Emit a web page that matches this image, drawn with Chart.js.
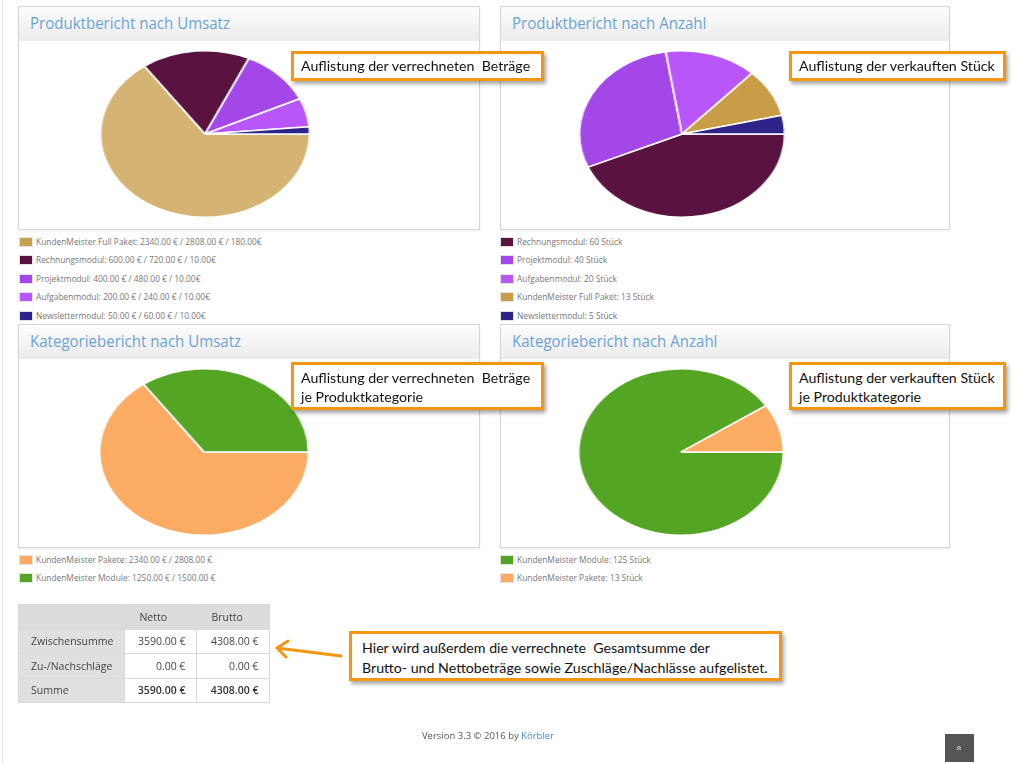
<!DOCTYPE html>
<html lang="de">
<head>
<meta charset="utf-8">
<title>Berichte</title>
<script src="https://cdn.jsdelivr.net/npm/chart.js@4.4.1/dist/chart.umd.min.js"></script>
<style>
  html, body { margin: 0; padding: 0; }
  body { width: 1024px; height: 763px; position: relative; overflow: hidden; background: #fff; font-family: "Open Sans", sans-serif; }
  .leftline { position: absolute; left: 2px; top: 0; width: 1px; height: 763px; background: #e6e6e6; }
  .panel { position: absolute; border: 1px solid #d6d6d6; background: #fff; box-shadow: 0 1px 2px rgba(0,0,0,0.08); }
  .panel .head { position: absolute; left: 0; top: 0; right: 0; height: 34px; background: linear-gradient(#fdfdfd, #ebebeb); }
  .panel .head span { position: absolute; left: 11px; top: 4px; font-size: 17px; color: #6ba4d4; white-space: nowrap; transform: scaleX(0.885); transform-origin: left center; }
  canvas.pie { position: absolute; }
  .legend { position: absolute; }
  .legend .item { position: absolute; left: 0; height: 12px; white-space: nowrap; }
  .legend .sw { position: absolute; left: 0; top: 0; width: 14px; height: 10px; background: #e2e2e2; }
  .legend .sw i { position: absolute; left: 1px; top: 1px; width: 12px; height: 8px; }
  .legend .tx { position: absolute; left: 17px; top: -1px; font-size: 8.4px; line-height: 12px; color: #777; }
  .callout { position: absolute; box-sizing: border-box; background: #fff; border: 3px solid #f5960f; box-shadow: 2px 3px 4px rgba(0,0,0,0.35); font-family: Lato, sans-serif; font-size: 14.2px; line-height: 18.5px; color: #111; padding: 5px 0 0 7px; white-space: nowrap; }
  table.sum { position: absolute; left: 18px; top: 604px; border-collapse: collapse; font-size: 10.5px; color: #444; }
  table.sum td { border: 1px solid #d9d9d9; height: 24.5px; padding: 0 11px; box-sizing: border-box; white-space: nowrap; }
  table.sum td.c0 { width: 106px; background: #e0e0e0; padding-left: 12px; }
  table.sum td.c1 { width: 72px; text-align: right; }
  table.sum td.c2 { width: 73px; text-align: right; }
  table.sum tr.hd td { background: #dcdcdc; text-align: left; padding-left: 14px; }
  table.sum tr.total td.c1, table.sum tr.total td.c2 { font-weight: 600; color: #333; }
  .footer { position: absolute; left: 0; width: 976px; top: 729px; text-align: center; font-size: 9.5px; color: #555; }
  .footer a { color: #428bca; text-decoration: none; }
  .totop { position: absolute; left: 945px; top: 734px; width: 29px; height: 28px; background: #555; color: #dde; font-size: 11px; text-align: center; line-height: 28px; }
  .totop span { display: inline-block; transform: rotate(90deg); }
</style>
</head>
<body>
<div class="leftline"></div>

<div class="panel" style="left:18px; top:6px; width:460px; height:222px;"><div class="head"><span>Produktbericht nach Umsatz</span></div></div>
<div class="panel" style="left:500px; top:6px; width:448px; height:222px;"><div class="head"><span>Produktbericht nach Anzahl</span></div></div>
<div class="panel" style="left:18px; top:324px; width:460px; height:222px;"><div class="head"><span>Kategoriebericht nach Umsatz</span></div></div>
<div class="panel" style="left:500px; top:324px; width:448px; height:222px;"><div class="head"><span>Kategoriebericht nach Anzahl</span></div></div>

<canvas id="pie1" class="pie" width="168" height="168"></canvas>
<canvas id="pie2" class="pie" width="168" height="168"></canvas>
<canvas id="pie3" class="pie" width="168" height="168"></canvas>
<canvas id="pie4" class="pie" width="168" height="168"></canvas>

<div id="legend1" class="legend" style="left:19px; top:236.5px;"></div>
<div id="legend2" class="legend" style="left:500px; top:236.5px;"></div>
<div id="legend3" class="legend" style="left:19px; top:554.5px;"></div>
<div id="legend4" class="legend" style="left:500px; top:554.5px;"></div>

<div class="callout" style="left:291px; top:51px; width:253px; height:30px; padding-top:3px;">Auflistung der verrechneten&nbsp; Beträge</div>
<div class="callout" style="left:789px; top:51px; width:217px; height:30px; padding-top:3px;">Auflistung der verkauften Stück</div>
<div class="callout" style="left:291px; top:362px; width:253px; height:48px; padding-top:4px;">Auflistung der verrechneten&nbsp; Beträge<br>je Produktkategorie</div>
<div class="callout" style="left:789px; top:362px; width:217px; height:48px; padding-top:4px;">Auflistung der verkauften Stück<br>je Produktkategorie</div>
<div class="callout" style="left:349px; top:631px; width:433px; height:50px; padding:4px 0 0 10px; line-height:20px;">Hier wird außerdem die verrechnete&nbsp; Gesamtsumme der<br>Brutto- und Nettobeträge sowie Zuschläge/Nachlässe aufgelistet.</div>

<svg style="position:absolute; left:0; top:0;" width="1024" height="763">
  <path d="M277,648 L341,656 M277,648 L288,641 M277,648 L286,657" stroke="#f5960f" stroke-width="3" fill="none" stroke-linecap="round" stroke-linejoin="round"/>
</svg>

<table class="sum" id="sumTable"></table>

<div class="footer">Version 3.3 © 2016 by <a href="#">Körbler</a></div>
<div class="totop"><span>«</span></div>

<script>
// Produktbericht nach Umsatz
const produktLabels = ['KundenMeister Full Paket', 'Rechnungsmodul', 'Projektmodul', 'Aufgabenmodul', 'Newslettermodul'];
const produktNetto = [2340, 600, 400, 200, 50];
const produktBrutto = [2808, 720, 480, 240, 60];
const produktPreis = [180, 10, 10, 10, 10];
const produktFarben = ['#d5b373', '#5a1340', '#a447e8', '#b856f9', '#2e2389'];
const produktLegendFarben = ['#c9a04b', '#5a1340', '#a447e8', '#b856f9', '#2e2389'];

// Produktbericht nach Anzahl
const anzahlLabels = ['Rechnungsmodul', 'Projektmodul', 'Aufgabenmodul', 'KundenMeister Full Paket', 'Newslettermodul'];
const anzahlWerte = [60, 40, 20, 13, 5];
const anzahlFarben = ['#5a1340', '#a447e8', '#b856f9', '#c99c48', '#2e2389'];

// Kategoriebericht nach Umsatz
const katUmsatzLabels = ['KundenMeister Pakete', 'KundenMeister Module'];
const katUmsatzNetto = [2340, 1250];
const katUmsatzBrutto = [2808, 1500];
const katUmsatzFarben = ['#fcab63', '#55a524'];

// Kategoriebericht nach Anzahl
const katAnzahlLabels = ['KundenMeister Module', 'KundenMeister Pakete'];
const katAnzahlWerte = [125, 13];
const katAnzahlFarben = ['#55a524', '#fcab63'];

// Summentabelle
const tabelleSpalten = ['', 'Netto', 'Brutto'];
const tabelleZeilen = ['Zwischensumme', 'Zu-/Nachschläge', 'Summe'];
const tabelleNetto = [3590, 0, 3590];
const tabelleBrutto = [4308, 0, 4308];

const euro = v => v.toFixed(2) + ' €';

function drawPie(id, labels, values, colors, cx, cy, rx) {
  const canvas = document.getElementById(id);
  const r = 83.25;
  canvas.style.left = (cx - 84) + 'px';
  canvas.style.top = (cy - 84) + 'px';
  canvas.style.transform = 'scaleX(' + (rx / r).toFixed(4) + ')';
  return new Chart(canvas.getContext('2d'), {
    type: 'pie',
    data: {
      labels,
      datasets: [{
        data: values,
        backgroundColor: colors,
        borderColor: '#ffffff',
        borderWidth: 1.5
      }]
    },
    options: {
      responsive: false,
      animation: false,
      events: [],
      rotation: 90,
      layout: { padding: 0 },
      plugins: { legend: { display: false }, tooltip: { enabled: false } }
    }
  });
}

function buildLegend(id, colors, texts, step) {
  const box = document.getElementById(id);
  texts.forEach((t, i) => {
    const item = document.createElement('div');
    item.className = 'item';
    item.style.top = (i * step) + 'px';
    item.innerHTML = `<div class="sw"><i style="background:${colors[i]}"></i></div><div class="tx">${t}</div>`;
    box.appendChild(item);
  });
}

drawPie('pie1', produktLabels, produktNetto, produktFarben, 204.7, 133.5, 104.6);
drawPie('pie2', anzahlLabels, anzahlWerte, anzahlFarben, 681.8, 133.5, 102.6);
drawPie('pie3', katUmsatzLabels, katUmsatzNetto, katUmsatzFarben, 203.8, 451.7, 104.5);
drawPie('pie4', katAnzahlLabels, katAnzahlWerte, katAnzahlFarben, 680.8, 451.7, 102.5);

buildLegend('legend1', produktLegendFarben,
  produktLabels.map((l, i) => `${l}: ${euro(produktNetto[i])} / ${euro(produktBrutto[i])} / ${produktPreis[i].toFixed(2)}€`), 18.5);
buildLegend('legend2', anzahlFarben,
  anzahlLabels.map((l, i) => `${l}: ${anzahlWerte[i]} Stück`), 18.5);
buildLegend('legend3', katUmsatzFarben,
  katUmsatzLabels.map((l, i) => `${l}: ${euro(katUmsatzNetto[i])} / ${euro(katUmsatzBrutto[i])}`), 18.6);
buildLegend('legend4', katAnzahlFarben,
  katAnzahlLabels.map((l, i) => `${l}: ${katAnzahlWerte[i]} Stück`), 18.6);

// Tabelle aufbauen
const table = document.getElementById('sumTable');
let html = '<tr class="hd">' + tabelleSpalten.map((s, i) => `<td class="c${i}">${s}</td>`).join('') + '</tr>';
tabelleZeilen.forEach((z, i) => {
  const cls = i === tabelleZeilen.length - 1 ? ' class="total"' : '';
  html += `<tr${cls}><td class="c0">${z}</td><td class="c1">${euro(tabelleNetto[i])}</td><td class="c2">${euro(tabelleBrutto[i])}</td></tr>`;
});
table.innerHTML = html;
</script>
</body>
</html>
